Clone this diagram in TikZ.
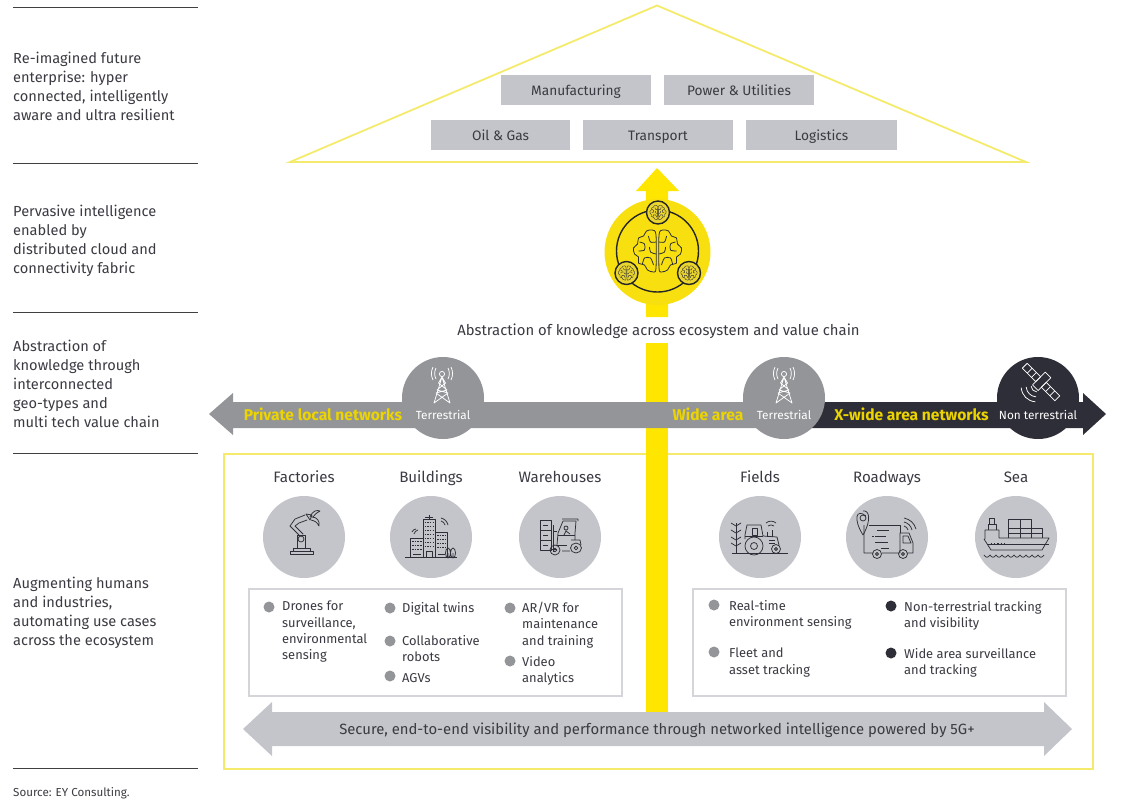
\documentclass[tikz,border=0pt]{standalone}
\usepackage{fontspec}
\setmainfont{Fira Sans}
\usetikzlibrary{positioning}
\definecolor{eyyellow}{HTML}{FFE600}
\definecolor{softyellow}{HTML}{F4EA6C}
\definecolor{midgrey}{HTML}{939598}
\definecolor{lightgrey}{HTML}{C4C5CA}
\definecolor{boxline}{HTML}{D4D5D8}
\definecolor{eydark}{HTML}{2E2E38}
\definecolor{inktext}{HTML}{3A3A42}
\definecolor{brainfill}{HTML}{EBD62E}

\newcommand{\bodyfont}{\fontsize{14.6}{19}\selectfont}
\newcommand{\itemfont}{\fontsize{12.9}{16.3}\selectfont}

\tikzset{
  sidetext/.style={anchor=north west, inner sep=0, align=left, text=inktext, font=\bodyfont},
  sideline/.style={draw=black!75, line width=0.7},
  sector/.style={fill=lightgrey, minimum height=30, inner sep=0, text=inktext, text height=13, text depth=2, font=\fontsize{13.7}{16}\selectfont},
  place/.style={circle, fill=lightgrey, minimum size=82, inner sep=0},
  network/.style={circle, minimum size=82, inner sep=0},
  placename/.style={text=inktext, inner sep=0, text height=14.5, text depth=3, font=\fontsize{15.1}{17}\selectfont},
  netname/.style={text=eyyellow!92!black, inner sep=0, text height=15, text depth=3, font=\fontsize{15.6}{17}\selectfont\bfseries},
  nettype/.style={text=white, inner sep=0, text height=9, text depth=0, font=\fontsize{11.8}{14}\selectfont},
  wideline/.style={text=inktext, inner sep=0, text height=12.5, text depth=3, font=\fontsize{14.85}{17}\selectfont},
  usebox/.style={draw=boxline, line width=1.6, fill=white},
  greydot/.style={circle, fill=midgrey, minimum size=11, inner sep=0},
  darkdot/.style={circle, fill=eydark, minimum size=11, inner sep=0},
  itemtext/.style={anchor=north west, inner sep=0, align=left, text=inktext, font=\itemfont},
  ink/.style={draw=eydark, line width=0.75, line join=round},
  whiteink/.style={draw=white, line width=0.75, line join=round},
  pics/brain/.style={code={
    \foreach \side in {1,-1}{
      \begin{scope}[xscale=\side, draw=eydark, line width=#1, line join=round]
        \draw plot[smooth cycle] coordinates {(-1.5,-16) (-5,-21) (-11,-20) (-14,-15) (-19,-13) (-20,-7) (-24,-3) (-23,3) (-19,6) (-19,12) (-13,14) (-10,19) (-4,21) (-1.5,17)};
        \draw plot[smooth] coordinates {(-1.5,-9) (-7,-9) (-9,-15)};
        \draw plot[smooth] coordinates {(-18,-9) (-13,-7) (-13,-1) (-19,0)};
        \draw plot[smooth] coordinates {(-1.5,3) (-7,1) (-8,-4)};
        \draw plot[smooth] coordinates {(-15,13) (-13,7) (-7,7) (-4,14)};
      \end{scope}
    }
  }},
  pics/tower/.style={code={
    \begin{scope}[whiteink]
      \draw (0,-24) circle[radius=2.6];
      \draw (0,-21) -- (-8,5) -- (6,-5) -- (-5,-8) -- (3.5,-15) -- (0,-21) -- (8,5) -- (-6,-5) -- (5,-8) -- (-3.5,-15) -- cycle;
      \draw (-6,-30) to[bend right=25] (-6,-19) (-9,-31) to[bend right=25] (-9,-18);
      \draw (6,-30) to[bend left=25] (6,-19) (9,-31) to[bend left=25] (9,-18);
    \end{scope}
  }},
  pics/satellite/.style={code={
    \begin{scope}[whiteink, shift={(3,-16)}, rotate=-45]
      \draw (-23,-3.5) rectangle (-4,3.5);
      \draw (4,-3.5) rectangle (23,3.5);
      \draw (-16,-3.5) -- (-16,3.5) (-10,-3.5) -- (-10,3.5) (10,-3.5) -- (10,3.5) (16,-3.5) -- (16,3.5);
      \draw (-4,-10) rectangle (4,8);
      \draw (-4,10) to[bend right=40] (4,10) (-7,14) to[bend right=40] (7,14) (-10,18) to[bend right=40] (10,18);
    \end{scope}
  }},
  pics/robotarm/.style={code={
    \begin{scope}[ink, line cap=round]
      \draw (-14,17) -- (9,17) -- (9,14) -- (-14,14) -- cycle;
      \draw (-11,14) -- (-11,11) -- (6,11) -- (6,14);
      \draw (-7,11) -- (-7,-2) -- (1,-2) -- (1,11);
      \draw (-3,2) circle[radius=3];
      \draw (-5,-2) -- (-14,-11) -- (-9,-18) -- (1,-22) (-1,-3) -- (-9,-11) -- (-5,-14) -- (3,-17);
      \draw (2,-23) -- (6,-17) -- (8,-22) -- (2,-23);
      \draw (6,-20) .. controls (9,-27) and (13,-27) .. (16,-26) .. controls (13,-24) and (12,-24) .. (9,-20);
      \draw (8,-20) .. controls (13,-20) and (16,-16) .. (15,-11) .. controls (13,-15) and (11,-16) .. (7,-17);
    \end{scope}
  }},
  pics/citytower/.style={code={
    \begin{scope}[ink]
      \draw (-26,20) -- (26,20);
      \draw (-21,20) -- (-21,1) -- (-8,1) (-8,-18) rectangle (4,20) (4,-5) -- (16,-5) -- (16,20);
      \draw (-2,-18) -- (-2,-22);
      \draw (-6,-20) -- (2,-20);
      \foreach \row in {-15,-11,...,9}{\draw[line width=1, dash pattern=on 1.5 off 1.2] (-6.5,\row) -- (3,\row);}
      \foreach \row in {4,8,12}{\draw[line width=1, dash pattern=on 1.5 off 1.2] (-19,\row) -- (-9,\row);}
      \foreach \row in {-2,2,6,10}{\draw[line width=1, dash pattern=on 1.5 off 1.2] (6,\row) -- (15,\row);}
      \draw (-5,20) -- (-5,14) -- (1,14) -- (1,20);
      \draw (-18,17) -- (-10,17) (7,17) -- (14,17);
      \draw (17,16) ellipse (2.5 and 5) (22,16) ellipse (2.5 and 5) (17,16) -- (17,20) (22,16) -- (22,20);
      \draw (-17,-3) to[bend left=30] (-13,-7) (-19,-5) to[bend left=30] (-15,-8);
      \draw (10,-16) to[bend left=30] (14,-12) (10,-19) to[bend left=30] (17,-12);
    \end{scope}
  }},
  pics/forklift/.style={code={
    \begin{scope}[ink]
      \draw (-20,-17) rectangle (-9,-7) (-20,-7) rectangle (-9,3) (-20,3) rectangle (-9,13);
      \draw (-17,-12) -- (-12,-12) (-17,-2) -- (-12,-2) (-17,8) -- (-12,8);
      \draw (-7,-12) -- (-7,14) -- (-5,14);
      \draw (-7,-6) -- (-3,-6) (-9,12) -- (-3,12);
      \draw (-3,8) -- (-2,-4) -- (3,-16) -- (16,-16) -- (15,-4) -- (15,3) (2,-18) -- (18,-18) -- (18,-16);
      \draw (-2,-2) -- (15,-2) (-3,8) -- (7,8);
      \draw (6,-9) circle[radius=2] (4,-2) -- (6,-6) -- (10,-3);
      \draw (-5,13) circle[radius=5] (-5,13) circle[radius=1.8];
      \draw (16,11) ellipse (5.5 and 5) (16,11) circle[radius=1.8];
      \draw (2,14) -- (10,14) (11,3) -- (20,3) -- (21,8);
    \end{scope}
  }},
  pics/tractor/.style={code={
    \begin{scope}[ink]
      \draw (-28,16) -- (28,16);
      \draw (-24,16) -- (-24,-14);
      \foreach \row in {-11,-4,3,9}{\draw (-29,\row-3) -- (-24,\row) -- (-19,\row-3);}
      \draw (-15,-2) -- (-13,-12) -- (1,-12) -- (3,-1) -- (17,0) -- (19,8) (-15,-2) -- (-15,2);
      \draw (-8,-9) rectangle (-3,-2);
      \draw (-15,-1) -- (3,-1) (7,-5) -- (7,0) (12,-7) -- (12,0);
      \draw (-6,9) circle[radius=9] (-6,9) circle[radius=3.5];
      \draw (16,12) circle[radius=4.5] (16,12) circle[radius=1.5];
      \draw (8,-11) to[bend left=40] (14,-11) (6,-14) to[bend left=40] (16,-14);
      \draw (9,6) -- (15,6) (9,3) -- (15,3);
    \end{scope}
  }},
  pics/truckpin/.style={code={
    \begin{scope}[ink]
      \draw (-23,-12) -- (-23,-9) (-23,-12) -- (-23,16) -- (-14,16) (-5,16) -- (12,16) (20,16) -- (26,16) -- (26,6) -- (22,-4) -- (13,-4) -- (13,16);
      \draw (-18,-12) -- (13,-12) -- (13,-4);
      \draw (-21,-21) .. controls (-31,-29) and (-34,-18) .. (-24,-2) .. controls (-15,-18) and (-18,-27) .. (-24,-26);
      \draw (-24,-19) circle[radius=3];
      \draw (-10,-7) -- (2,-7) (-12,-1) -- (-1,-1) (-15,-1) -- (-13,-1) (-12,5) -- (1,5) (-6,11) -- (2,11);
      \draw (16,-1) -- (21,-1) -- (24,6) -- (16,6) -- cycle;
      \draw (-10,17) circle[radius=4.5] (-10,17) circle[radius=1.5] (16,17) circle[radius=4.5] (16,17) circle[radius=1.5];
      \draw (17,-11) to[bend left=30] (21,-7) (17,-15) to[bend left=30] (25,-7) (17,-19) to[bend left=30] (29,-8);
    \end{scope}
  }},
  pics/ship/.style={code={
    \begin{scope}[ink]
      \draw (-32,2) -- (-25,13) -- (26,13) -- (33,1) -- (-17,1) -- (-17,-7) -- (-31,-7) -- (-31,2);
      \draw (-28,-7) -- (-28,-13) -- (-20,-13) -- (-20,-7) (-27,-19) rectangle (-22,-13);
      \draw (-8,1) -- (-8,-18) -- (15,-18) -- (15,1) (-8,-9) -- (26,-9) -- (26,1) (-8,-4) -- (26,-4) (4,-18) -- (4,1) (15,-9) -- (15,1);
      \draw (-29,7) -- (33,7);
      \draw[line width=1, dash pattern=on 1.2 off 2] (-25,6) -- (-10,6);
      \draw (-32,18) .. controls (-30,21) and (-28,21) .. (-26,18) .. controls (-24,21) and (-22,21) .. (-20,18) .. controls (-18,21) and (-16,21) .. (-14,18) .. controls (-12,21) and (-10,21) .. (-8,18) .. controls (-6,21) and (-4,21) .. (-2,18) .. controls (0,21) and (2,21) .. (4,18) .. controls (6,21) and (8,21) .. (10,18) .. controls (12,21) and (14,21) .. (16,18) .. controls (18,21) and (20,21) .. (22,18) .. controls (24,21) and (26,21) .. (28,18);
    \end{scope}
  }}
}

\begin{document}
\begin{tikzpicture}[x=1pt, y=-1pt]
  \useasboundingbox (0,0) rectangle (1121,804);

  % Side rules
  \foreach \rule in {7,163,312,453,768}{
    \draw[sideline] (13,\rule) -- (198,\rule);
  }

  % Side column
  \node[sidetext] (futuretext) at (13,51.5) {Re-imagined future\\enterprise: hyper\\connected, intelligently\\aware and ultra resilient};
  \node[sidetext] (fabrictext) at (13,204.5) {Pervasive intelligence\\enabled by\\distributed cloud and\\connectivity fabric};
  \node[sidetext] (abstracttext) at (13,339.5) {Abstraction of\\knowledge through\\interconnected\\geo-types and\\multi tech value chain};
  \node[sidetext] (augmenttext) at (13,576.5) {Augmenting humans\\and industries,\\automating use cases\\across the ecosystem};
  \node[sidetext, font=\fontsize{11.6}{13}\selectfont] (sourcetext) at (13,787) {Source: EY Consulting.};

  % Roof
  \draw[softyellow, line width=1.8, line join=miter] (290,162) -- (657,5.5) -- (1026,162) -- cycle;
  \node[sector, minimum width=150] (manufacturing) at (576,89.5) {Manufacturing};
  \node[sector, minimum width=150] (power) at (739,89.5) {Power \& Utilities};
  \node[sector, minimum width=139] (oilgas) at (500.5,135) {Oil \& Gas};
  \node[sector, minimum width=150] (transport) at (658,135) {Transport};
  \node[sector, minimum width=151] (logistics) at (821.5,135) {Logistics};

  % Use case frame
  \draw[softyellow, line width=1.5] (224,454) rectangle (1093,769);

  % Yellow arrow with brain
  \fill[eyyellow] (646,317) -- (646,191) -- (636,191) -- (657,168) -- (679,191) -- (668,191) -- (668,317) -- cycle;
  \fill[eyyellow] (646,343) rectangle (668,713);
  \fill[brainfill!35!eyyellow] (657.5,252) circle[radius=53];
  \draw[black!85, line width=1.4] (657.5,251) circle[radius=41];
  \pic at (657.5,251) {brain=0.8};
  \foreach \hub/\hx/\hy in {hubtop/658/212.5, hubleft/626.5/273, hubright/689/273}{
    \node[circle, draw=black!85, line width=1.4, fill=brainfill, minimum size=23, inner sep=0] (\hub) at (\hx,\hy) {};
    \pic[scale=0.34] at (\hx,\hy) {brain=0.4};
  }
  \node[wideline] (knowledge) at (658.5,330.5) {Abstraction of knowledge across ecosystem and value chain};

  % Network band
  \fill[midgrey] (209,414) -- (233,393) -- (233,402) -- (800,402) -- (800,428) -- (233,428) -- (233,435) -- cycle;
  \fill[eydark] (800,402) -- (1083,402) -- (1083,393) -- (1106,414) -- (1083,435) -- (1083,428) -- (800,428) -- cycle;
  \node[network, fill=midgrey] (localmast) at (443,398) {};
  \node[network, fill=midgrey] (widemast) at (784,398) {};
  \node[network, fill=eydark] (satcircle) at (1038,398) {};
  \pic at (442,398) {tower};
  \pic at (784,398) {tower};
  \pic at (1038,398) {satellite};
  \node[netname] (privatelabel) at (323,414.5) {Private local networks};
  \node[netname] (widelabel) at (708,414.5) {Wide area};
  \node[netname] (xwidelabel) at (911.5,414.5) {X-wide area networks};
  \node[nettype] (terrleft) at (443,415) {Terrestrial};
  \node[nettype] (terrright) at (784,415) {Terrestrial};
  \node[nettype] (nonterr) at (1038,415) {Non terrestrial};

  % Places
  \foreach \site/\sx/\name/\art in {
    factories/304/Factories/robotarm, buildings/431/Buildings/citytower, warehouses/560/Warehouses/forklift,
    fields/760/Fields/tractor, roadways/887/Roadways/truckpin, sea/1016/Sea/ship}{
    \node[place] (\site) at (\sx,537) {};
    \node[placename] (\site label) at (\sx,477) {\name};
    \pic at (\sx,537) {\art};
  }

  % Use case boxes
  \draw[usebox] (249,589) rectangle (622,696);
  \draw[usebox] (693,589) rectangle (1066,696);

  \node[greydot] (dronesdot) at (269,607) {};
  \node[itemtext] (drones) at (282,601) {Drones for\\surveillance,\\environmental\\sensing};
  \node[greydot] (twinsdot) at (390,608) {};
  \node[itemtext] (twins) at (402,602) {Digital twins};
  \node[greydot] (robotsdot) at (390,641) {};
  \node[itemtext] (robots) at (402,635) {Collaborative\\robots};
  \node[greydot] (agvsdot) at (390,676) {};
  \node[itemtext] (agvs) at (402,673) {AGVs};
  \node[greydot] (arvrdot) at (510,608) {};
  \node[itemtext] (arvr) at (522,602) {AR/VR for\\maintenance\\and training};
  \node[greydot] (videodot) at (510,661) {};
  \node[itemtext] (video) at (522,656) {Video\\analytics};

  \node[greydot] (sensingdot) at (714,605) {};
  \node[itemtext] (sensing) at (729,600) {Real-time\\environment sensing};
  \node[greydot] (fleetdot) at (714,652) {};
  \node[itemtext] (fleet) at (729,648) {Fleet and\\asset tracking};
  \node[darkdot] (trackingdot) at (891,606) {};
  \node[itemtext] (tracking) at (904,601) {Non-terrestrial tracking\\and visibility};
  \node[darkdot] (surveydot) at (891,653) {};
  \node[itemtext] (survey) at (904,648) {Wide area surveillance\\and tracking};

  % Bottom arrow
  \fill[lightgrey] (243,729) -- (272,702) -- (272,712) -- (1044,712) -- (1044,702) -- (1072,729) -- (1044,756) -- (1044,746) -- (272,746) -- (272,756) -- cycle;
  \node[wideline] (securetext) at (657,729.5) {Secure, end-to-end visibility and performance through networked intelligence powered by 5G+};
\end{tikzpicture}
\end{document}
